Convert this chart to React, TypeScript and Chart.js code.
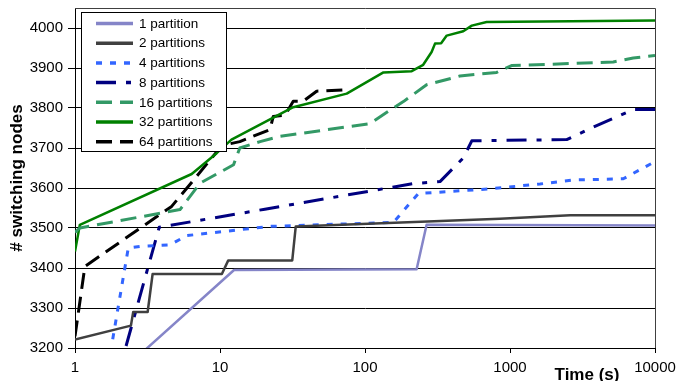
import React, { useEffect, useRef } from "react";
import { Chart, registerables } from "chart.js";

Chart.register(...registerables);

// ---- Data ----
const seriesLabels = [
  "1 partition",
  "2 partitions",
  "4 partitions",
  "8 partitions",
  "16 partitions",
  "32 partitions",
  "64 partitions",
];

const p1Time = [3.0, 12.5, 227, 266, 10000];
const p1Nodes = [3193, 3395, 3397, 3508, 3506];

const p2Time = [1, 2.43, 2.52, 3.17, 3.43, 10.3, 11.4, 31.5, 33.3, 853, 2600, 10000];
const p2Nodes = [3221, 3256, 3290, 3290, 3385, 3385, 3419, 3419, 3504, 3523, 3532, 3532];

const p4Time = [1.82, 2.33, 2.81, 4.52, 5.89, 22, 157, 233, 728, 1610, 2734, 6040, 10000];
const p4Nodes = [3222, 3450, 3454, 3458, 3481, 3504, 3514, 3586, 3598, 3610, 3620, 3623, 3666];

const p8Time = [2.25, 3.81, 20.4, 215, 329, 476, 545, 2460, 3960, 7080, 10000];
const p8Nodes = [3205, 3502, 3547, 3611, 3616, 3675, 3718, 3721, 3756, 3796, 3796];

const p16Time = [1, 1.08, 5.3, 7.28, 12.4, 13.7, 18.9, 25.9, 108, 157, 184, 266, 452, 809, 1025, 5150, 7080, 10000];
const p16Nodes = [3489, 3500, 3546, 3612, 3658, 3700, 3716, 3729, 3761, 3800, 3816, 3858, 3880, 3889, 3906, 3915, 3925, 3931];

const p32Time = [1, 1.08, 6.38, 9.48, 12.0, 32, 74.8, 134, 210, 252, 288, 304, 335, 366, 476, 545, 690, 10000];
const p32Nodes = [3441, 3508, 3635, 3687, 3721, 3802, 3836, 3889, 3892, 3908, 3940, 3961, 3962, 3981, 3992, 4006, 4015, 4019];

const p64Time = [1, 1.17, 4.64, 6.9, 10.3, 13.7, 22.1, 23.3, 28.1, 32, 37.5, 46.4, 76.7];
const p64Nodes = [3229, 3404, 3554, 3629, 3706, 3716, 3746, 3779, 3782, 3817, 3817, 3842, 3846];

const xTickValues = [1, 10, 100, 1000, 10000];
const yTickValues = [3200, 3300, 3400, 3500, 3600, 3700, 3800, 3900, 4000];
const xAxisTitle = "Time (s)";
const yAxisTitle = "# switching nodes";

const FONT = '"Liberation Sans", Arial, Helvetica, sans-serif';

export default function App() {
  const ref = useRef<HTMLCanvasElement | null>(null);

  useEffect(() => {
    const times = [p1Time, p2Time, p4Time, p8Time, p16Time, p32Time, p64Time];
    const nodes = [p1Nodes, p2Nodes, p4Nodes, p8Nodes, p16Nodes, p32Nodes, p64Nodes];
    const styles = [
      { color: "#8585c8", width: 2.5, dash: [] as number[] },
      { color: "#404040", width: 2.5, dash: [] as number[] },
      { color: "#3366ff", width: 3, dash: [6, 8] },
      { color: "#000080", width: 3, dash: [20, 10, 5, 10] },
      { color: "#339966", width: 3, dash: [16, 8] },
      { color: "#008000", width: 2.5, dash: [] as number[] },
      { color: "#000000", width: 3, dash: [16, 8] },
    ];

    const datasets = seriesLabels.map((label, i) => ({
      label,
      data: times[i].map((t, j) => ({ x: t, y: nodes[i][j] })),
      borderColor: styles[i].color,
      backgroundColor: styles[i].color,
      borderWidth: styles[i].width,
      borderDash: styles[i].dash,
      pointRadius: 0,
      fill: false,
      tension: 0,
      borderCapStyle: "butt" as const,
      borderJoinStyle: "round" as const,
    }));

    const decor = {
      id: "decor",
      afterDraw(chart: any) {
        const { ctx, chartArea: a } = chart;
        ctx.save();
        // top and right frame
        ctx.strokeStyle = "#404040";
        ctx.lineWidth = 1;
        ctx.setLineDash([]);
        ctx.beginPath();
        ctx.moveTo(a.left, a.top + 0.5);
        ctx.lineTo(a.right + 0.5, a.top + 0.5);
        ctx.lineTo(a.right + 0.5, a.bottom);
        ctx.stroke();

        // legend box
        const lx = 81, ly = 12, lw = 145, lh = 139;
        ctx.fillStyle = "#ffffff";
        ctx.fillRect(lx, ly, lw, lh);
        ctx.strokeStyle = "#000000";
        ctx.lineWidth = 1;
        ctx.strokeRect(lx + 0.5, ly + 0.5, lw, lh);
        ctx.font = `13.5px ${FONT}`;
        ctx.textBaseline = "middle";
        ctx.textAlign = "left";
        chart.data.datasets.forEach((ds: any, i: number) => {
          const y = 23.5 + i * 19.7;
          ctx.save();
          ctx.setLineDash(ds.borderDash || []);
          ctx.strokeStyle = ds.borderColor;
          ctx.lineWidth = 3.5;
          ctx.lineCap = "butt";
          ctx.beginPath();
          ctx.moveTo(96, y);
          ctx.lineTo(133, y);
          ctx.stroke();
          ctx.restore();
          ctx.fillStyle = "#000";
          ctx.fillText(ds.label, 139, y + 0.5);
        });

        // axis titles
        ctx.fillStyle = "#000";
        ctx.font = `bold 17px ${FONT}`;
        ctx.textAlign = "center";
        ctx.textBaseline = "alphabetic";
        ctx.fillText(xAxisTitle, 587, 380);
        ctx.save();
        ctx.translate(22, (a.top + a.bottom) / 2);
        ctx.rotate(-Math.PI / 2);
        ctx.textBaseline = "alphabetic";
        ctx.fillText(yAxisTitle, 0, 0);
        ctx.restore();
        ctx.restore();
      },
    };

    const chart = new Chart(ref.current as HTMLCanvasElement, {
      type: "line",
      data: { datasets } as any,
      options: {
        animation: false,
        responsive: true,
        maintainAspectRatio: false,
        devicePixelRatio: 1,
        layout: { padding: { left: 0, top: 8, right: 24, bottom: 0 } },
        plugins: { legend: { display: false }, tooltip: { enabled: false } },
        scales: {
          x: {
            type: "logarithmic",
            min: 1,
            max: 10000,
            afterBuildTicks: (s: any) => {
              s.ticks = xTickValues.map((v) => ({ value: v }));
            },
            afterFit: (s: any) => {
              s.height = 33;
              s.paddingLeft = 0;
              s.paddingRight = 0;
            },
            grid: { drawOnChartArea: false, drawTicks: true, tickLength: 5, color: "#000", lineWidth: 1 },
            border: { display: true, color: "#000", width: 1 },
            ticks: {
              color: "#000",
              font: { family: FONT, size: 15 },
              padding: 6,
              maxRotation: 0,
              autoSkip: false,
              callback: (v: any) => String(v),
            },
          },
          y: {
            type: "linear",
            min: 3200,
            max: 4050,
            afterBuildTicks: (s: any) => {
              s.ticks = yTickValues.map((v) => ({ value: v }));
            },
            afterFit: (s: any) => {
              s.width = 75;
              s.paddingTop = 0;
              s.paddingBottom = 0;
            },
            grid: { color: "#000", lineWidth: 1, drawTicks: true, tickLength: 7 },
            border: { display: true, color: "#000", width: 1 },
            ticks: {
              color: "#000",
              font: { family: FONT, size: 15 },
              padding: 5,
              autoSkip: false,
              callback: (v: any) => String(v),
            },
          },
        },
      } as any,
      plugins: [decor],
    });
    return () => chart.destroy();
  }, []);

  return (
    <div style={{ position: "fixed", left: 0, top: 0, width: 679, height: 381, background: "#fff" }}>
      <canvas ref={ref} />
    </div>
  );
}
